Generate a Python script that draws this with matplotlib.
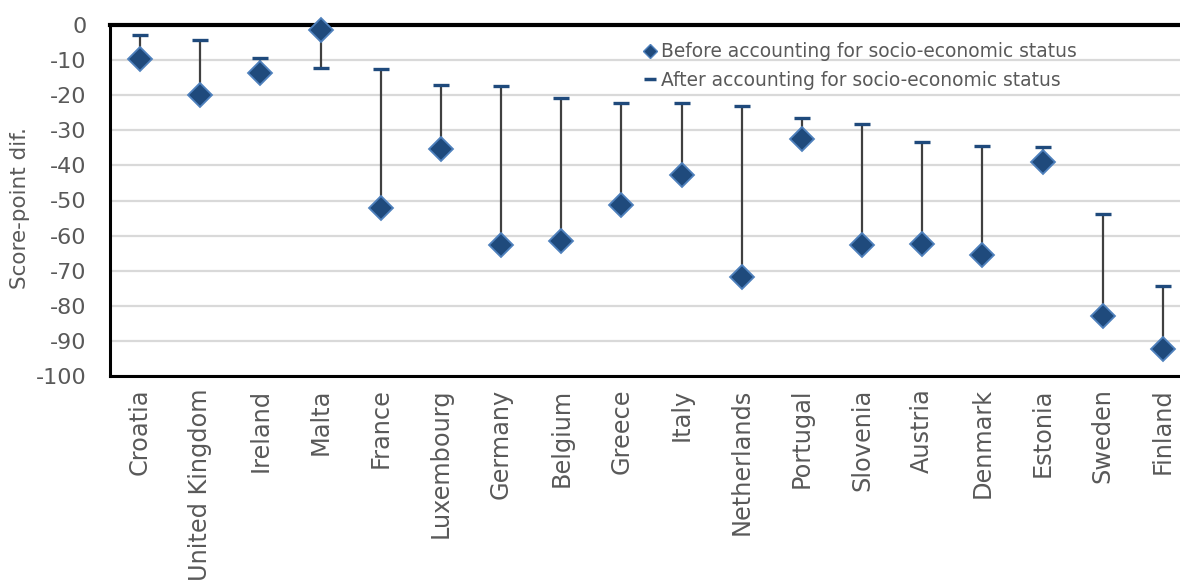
import matplotlib
matplotlib.use("Agg")
import matplotlib.pyplot as plt
from matplotlib.lines import Line2D
import numpy as np

plt.rcParams["axes.unicode_minus"] = False

countries = ["Croatia", "United Kingdom", "Ireland", "Malta", "France", "Luxembourg",
             "Germany", "Belgium", "Greece", "Italy", "Netherlands", "Portugal",
             "Slovenia", "Austria", "Denmark", "Estonia", "Sweden", "Finland"]
before = [-9.7, -20.0, -13.7, -1.3, -52.2, -35.4, -62.8, -61.4, -51.3, -42.8,
          -71.9, -32.4, -62.8, -62.5, -65.4, -39.0, -82.8, -92.2]
after = [-2.8, -4.3, -9.4, -12.3, -12.5, -17.1, -17.4, -20.8, -22.1, -22.1,
         -23.1, -26.4, -28.2, -33.3, -34.5, -34.8, -53.8, -74.4]

text_col = "#595959"
dark_blue = "#1F4A7C"

fig = plt.figure(figsize=(11.8, 5.8), dpi=100)
# plot area runs a little past the right edge of the picture, like the original
ax = fig.add_axes([110 / 1180, 1 - 376 / 580, 1083 / 1180, 351 / 580])

x = np.arange(len(countries))

# stems between before/after
ax.vlines(x, before, after, color="#404040", lw=1.6, zorder=2)
# after caps
ax.plot(x, after, ls="none", marker="_", ms=12, mew=2.4, color=dark_blue,
        zorder=3, clip_on=False)
# before diamonds
ax.plot(x, before, ls="none", marker="D", ms=12.5, mfc=dark_blue, mec="#4F81BD",
        mew=1.3, zorder=4, clip_on=False)

ax.set_xlim(-0.5, len(countries) - 0.5)
ax.set_ylim(-100, 0)
ax.set_yticks(np.arange(-100, 1, 10))
ax.set_xticks(x)
ax.set_xticklabels(countries, rotation=90, fontsize=17.3, color=text_col)
ax.tick_params(axis="x", length=0, pad=9)
ax.tick_params(axis="y", length=0, pad=17, labelsize=16, labelcolor=text_col)
ax.yaxis.grid(True, color="#D9D9D9", lw=1.6)
ax.set_axisbelow(True)

ax.spines["right"].set_visible(False)
ax.spines["top"].set_linewidth(3)
ax.spines["top"].set_zorder(1)
ax.spines["left"].set_linewidth(2.2)
ax.spines["bottom"].set_linewidth(2.2)

ax.set_ylabel("Score-point dif.", fontsize=15.5, color=text_col)
ax.yaxis.set_label_coords(-0.074, 0.48)

handles = [
    Line2D([], [], ls="none", marker="D", ms=7, mfc=dark_blue, mec="#4F81BD", mew=1),
    Line2D([], [], ls="none", marker="_", ms=9, mew=2.5, color=dark_blue),
]
labels = ["Before accounting for socio-economic status",
          "After accounting for socio-economic status"]
fig.legend(handles, labels, loc="upper left", bbox_to_anchor=(633 / 1180, 1 - 33 / 580),
           frameon=False, fontsize=13.4, labelcolor=text_col, handlelength=0.8,
           handletextpad=0.2, labelspacing=0.5, borderpad=0)

fig.savefig("out.png", dpi=100)
